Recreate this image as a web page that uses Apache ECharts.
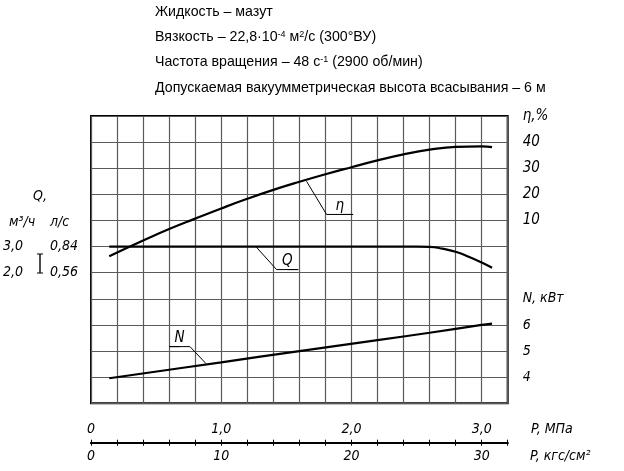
<!DOCTYPE html>
<head>
	<meta charset="utf-8">
	<title>Характеристика насоса</title>
	<script src="https://cdn.jsdelivr.net/npm/echarts@6/dist/echarts.min.js"></script>
	<style>
		html, body { margin: 0; padding: 0; background: #fff; }
		#main { width: 624px; height: 471px; }
	</style>
</head>
<body>
	<div id="main"></div>
	<script type="text/javascript">
	// Кривые: давление P (МПа) и значение
	var etaP   = [0.14, 0.40, 0.60, 0.80, 1.00, 1.20, 1.40, 1.60, 1.80, 2.00, 2.20, 2.40, 2.60, 2.80, 3.00, 3.08];
	var etaVal = [-3.7, 2.3, 6.7, 10.7, 14.6, 18.3, 21.7, 24.8, 27.7, 30.4, 33.0, 35.3, 37.1, 38.2, 38.4, 38.1];   // %

	var qP   = [0.14, 1.00, 2.00, 2.50, 2.60, 2.70, 2.80, 2.90, 3.00, 3.08];
	var qVal = [3.00, 3.00, 3.00, 3.00, 2.99, 2.92, 2.80, 2.61, 2.39, 2.19];   // м3/ч

	var nP   = [0.14, 1.00, 1.60, 2.20, 2.60, 3.00, 3.08];
	var nVal = [3.96, 4.57, 5.00, 5.42, 5.70, 6.00, 6.05];               // кВт

	// подписи на шкалах
	var pMpaTicks = [0, 1, 2, 3];
	var pKgfTicks = [0, 10, 20, 30];
	var etaTicks  = [10, 20, 30, 40];
	var nTicks    = [4, 5, 6];
	var qM3hTicks = [2, 3];
	var qLsTicks  = [0.56, 0.84];

	var LAB_FONT = "'Liberation Sans Narrow', 'DejaVu Sans Condensed', sans-serif";
	var TXT_FONT = "'Liberation Sans', Arial, sans-serif";

	function fmt(v, d) { return v.toFixed(d).replace('.', ','); }
	function has(arr, v) { return arr.some(function (t) { return Math.abs(t - v) < 1e-3; }); }
	function pairs(xs, ys) { return xs.map(function (x, i) { return [x, ys[i]]; }); }

	// выноски (в координатах данных), последняя точка несёт подпись
	function leader(pts, text, yIdx) {
		return {
			type: 'line', xAxisIndex: 0, yAxisIndex: yIdx, silent: true,
			symbol: 'circle', symbolSize: 0.1, showSymbol: true,
			lineStyle: { color: '#000', width: 1 },
			itemStyle: { color: '#000' },
			data: pts.map(function (p, i) {
				return i === pts.length - 1 ? { value: p, label: { show: true, formatter: text, position: 'top', distance: 1, fontFamily: LAB_FONT, fontStyle: 'italic', fontSize: 15, color: '#000' } } : p;
			}),
			z: 3
		};
	}

	var myChart = echarts.init(document.getElementById('main'));

	var option = {
		backgroundColor: '#ffffff',
		animation: false,
		grid: {
			left: 91, top: 116, width: 416.7, height: 287.3,
			show: true, borderColor: '#000', borderWidth: 2, backgroundColor: 'transparent'
		},
		xAxis: [
			{ // сетка
				type: 'value', min: 0, max: 3.2, interval: 0.2,
				axisLine: { show: false, onZero: false }, axisTick: { show: false }, axisLabel: { show: false },
				splitLine: { show: true, lineStyle: { color: '#5a5a5a', width: 1.2 } }
			},
			{ // МПа, подписи сверху
				type: 'value', position: 'bottom', offset: 39.4, min: 0, max: 3.2, interval: 0.2,
				axisLine: { show: true, onZero: false, lineStyle: { color: '#000', width: 2 } },
				axisTick: { show: true, inside: true, length: 3, lineStyle: { color: '#000', width: 1 } },
				axisLabel: {
					inside: true, margin: 6, fontFamily: LAB_FONT, fontStyle: 'italic', fontSize: 14, color: '#000',
					formatter: function (v) { return has(pMpaTicks, v) ? (v === 0 ? '0' : fmt(v, 1)) : ''; }
				},
				splitLine: { show: false }
			},
			{ // кгс/см2, подписи снизу
				type: 'value', position: 'bottom', offset: 39.4, min: 0, max: 32, interval: 2,
				axisLine: { show: true, onZero: false, lineStyle: { color: '#000', width: 2 } },
				axisTick: { show: true, length: 3, lineStyle: { color: '#000', width: 1 } },
				axisLabel: {
					margin: 7, fontFamily: LAB_FONT, fontStyle: 'italic', fontSize: 14, color: '#000',
					formatter: function (v) { return has(pKgfTicks, v) ? String(v) : ''; }
				},
				splitLine: { show: false }
			}
		],
		yAxis: [
			{ // КПД
				type: 'value', position: 'right', min: -60, max: 50, interval: 10,
				axisLine: { show: false, onZero: false }, axisTick: { show: false },
				splitLine: { show: true, lineStyle: { color: '#5a5a5a', width: 1.2 } },
				axisLabel: {
					margin: 15, fontFamily: LAB_FONT, fontStyle: 'italic', fontSize: 15, color: '#000',
					formatter: function (v) { return v === 50 ? 'η,%' : (has(etaTicks, v) ? String(v) : ''); }
				}
			},
			{ // мощность
				type: 'value', position: 'right', offset: 0, min: 3, max: 14, interval: 1,
				axisLine: { show: false, onZero: false }, axisTick: { show: false }, splitLine: { show: false },
				axisLabel: {
					margin: 15, fontFamily: LAB_FONT, fontStyle: 'italic', fontSize: 14, color: '#000',
					formatter: function (v) { return v === 7 ? 'N, кВт' : (has(nTicks, v) ? String(v) : ''); }
				}
			},
			{ // подача, м3/ч
				type: 'value', position: 'left', min: -3, max: 8, interval: 1,
				axisLine: { show: false, onZero: false }, axisTick: { show: false }, splitLine: { show: false },
				axisLabel: {
					margin: 68, fontFamily: LAB_FONT, fontStyle: 'italic', fontSize: 14, color: '#000',
					formatter: function (v) { return has(qM3hTicks, v) ? fmt(v, 1) : ''; }
				}
			},
			{ // подача, л/с
				type: 'value', position: 'left', offset: 0, min: -0.84, max: 2.24, interval: 0.28,
				axisLine: { show: false, onZero: false }, axisTick: { show: false }, splitLine: { show: false },
				axisLabel: {
					margin: 41, align: 'left', fontFamily: LAB_FONT, fontStyle: 'italic', fontSize: 14, color: '#000',
					formatter: function (v) { return has(qLsTicks, v) ? fmt(v, 2) : ''; }
				}
			}
		],
		series: [
			{ name: 'η', type: 'line', xAxisIndex: 0, yAxisIndex: 0, smooth: 0.5, showSymbol: false,
			  lineStyle: { color: '#000', width: 2.2 }, data: pairs(etaP, etaVal), z: 4 },
			{ name: 'Q', type: 'line', xAxisIndex: 0, yAxisIndex: 2, smooth: 0.5, showSymbol: false,
			  lineStyle: { color: '#000', width: 2.2 }, data: pairs(qP, qVal), z: 4 },
			{ name: 'N', type: 'line', xAxisIndex: 0, yAxisIndex: 1, smooth: 0.4, showSymbol: false,
			  lineStyle: { color: '#000', width: 2.2 }, data: pairs(nP, nVal), z: 4 },
			leader([[1.655, 25.0], [1.809, 12.3], [2.013, 12.3], [1.91, 12.3]], 'η', 0),
			leader([[1.266, 3.0], [1.425, 2.12], [1.591, 2.12], [1.508, 2.12]], 'Q', 2),
			leader([[0.883, 4.52], [0.760, 5.17], [0.601, 5.17], [0.68, 5.17]], 'N', 1)
		],
		graphic: [
			{ type: 'text', x: 155, y: 12, style: { text: 'Жидкость – мазут', font: '14.2px ' + TXT_FONT, fill: '#000', verticalAlign: 'middle' } },
			{ type: 'text', x: 155, y: 37, style: {
				text: 'Вязкость – 22,8·10{sup|-4} м{sup|2}/с (300°ВУ)', fill: '#000', verticalAlign: 'middle',
				fontFamily: TXT_FONT, fontSize: 14.2,
				rich: { sup: { fontFamily: TXT_FONT, fontSize: 9, verticalAlign: 'top', fill: '#000' } } } },
			{ type: 'text', x: 155, y: 62, style: {
				text: 'Частота вращения – 48 с{sup|-1} (2900 об/мин)', fill: '#000', verticalAlign: 'middle',
				fontFamily: TXT_FONT, fontSize: 14.2,
				rich: { sup: { fontFamily: TXT_FONT, fontSize: 9, verticalAlign: 'top', fill: '#000' } } } },
			{ type: 'text', x: 155, y: 88, style: { text: 'Допускаемая вакуумметрическая высота всасывания – 6 м', font: '14.2px ' + TXT_FONT, fill: '#000', verticalAlign: 'middle' } },

			{ type: 'text', x: 40, y: 196, style: { text: 'Q,', font: 'italic 14px ' + LAB_FONT, fill: '#000', align: 'center', verticalAlign: 'middle' } },
			{ type: 'text', x: 22, y: 222, style: { text: 'м³/ч', font: 'italic 14px ' + LAB_FONT, fill: '#000', align: 'center', verticalAlign: 'middle' } },
			{ type: 'text', x: 50, y: 222, style: { text: 'л/с', font: 'italic 14px ' + LAB_FONT, fill: '#000', align: 'left', verticalAlign: 'middle' } },
			{ type: 'polyline', shape: { points: [[40, 254], [40, 273]] }, style: { stroke: '#000', lineWidth: 1.4 } },
			{ type: 'polyline', shape: { points: [[37, 254], [43, 254]] }, style: { stroke: '#000', lineWidth: 1 } },
			{ type: 'polyline', shape: { points: [[37, 273], [43, 273]] }, style: { stroke: '#000', lineWidth: 1 } },

			{ type: 'text', x: 531, y: 429, style: { text: 'P, МПа', font: 'italic 14px ' + LAB_FONT, fill: '#000', verticalAlign: 'middle' } },
			{ type: 'text', x: 530, y: 456, style: { text: 'P, кгс/см²', font: 'italic 14px ' + LAB_FONT, fill: '#000', verticalAlign: 'middle' } }
		]
	};

	myChart.setOption(option);
	</script>
</body>
